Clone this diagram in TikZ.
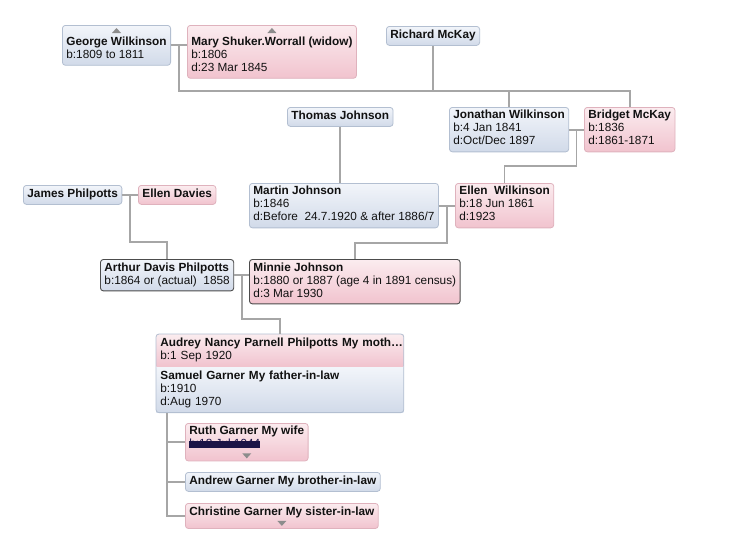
\documentclass[tikz,border=0pt]{standalone}
\usepackage{fontspec}
\setmainfont{Liberation Sans}
\usetikzlibrary{positioning, calc, fit}

\definecolor{bluetop}{HTML}{F2F5FA}
\definecolor{bluebot}{HTML}{D1DAE9}
\definecolor{blueline}{HTML}{B3BFD1}
\definecolor{pinktop}{HTML}{FBECEF}
\definecolor{pinkbot}{HTML}{F1C3CE}
\definecolor{pinkline}{HTML}{DFB2BD}
\definecolor{linkgray}{HTML}{A6A6A6}
\definecolor{markgray}{HTML}{8C8C8C}
\definecolor{inkblue}{HTML}{1B1446}
\definecolor{textblack}{HTML}{111111}

\newcommand{\blotted}[1]{\sbox0{#1}\usebox0\hspace{-\wd0}\rule[0pt]{\wd0}{6.5pt}}

\tikzset{
  person/.style={rectangle, rounded corners=3pt, anchor=north west, align=left,
    inner xsep=4pt, inner ysep=3pt, line width=0.8pt,
    font=\fontsize{11.8}{13}\selectfont, text=textblack,
    execute at begin node=\strut, execute at end node=\strut},
  male/.style={person, draw=blueline, top color=bluetop, bottom color=bluebot},
  female/.style={person, draw=pinkline, top color=pinktop, bottom color=pinkbot},
  picked/.style={draw=black!70, line width=0.9pt},
  link/.style={draw=linkgray, line width=1.8pt},
  marker/.style={fill=markgray},
}

\begin{document}
\begin{tikzpicture}[x=1pt, y=-1pt]
    \useasboundingbox (0,0) rectangle (736,550);

    % --- Persons ---
    \node[male] (george) at (62,25) {\rule{0pt}{17pt}\textbf{George Wilkinson}\\b:1809 to 1811};
    \node[female] (mary) at (187,25) {\rule{0pt}{17pt}\textbf{Mary Shuker.Worrall (widow)}\\b:1806\\d:23 Mar 1845};
    \node[male] (richard) at (386,26) {\textbf{Richard McKay}};
    \node[male] (thomas) at (287,107) {\textbf{Thomas Johnson}};
    \node[male] (jonathan) at (449,107) {\textbf{Jonathan Wilkinson}\\b:4 Jan 1841\\d:Oct/Dec 1897};
    \node[female] (bridget) at (584,107) {\textbf{Bridget McKay}\\b:1836\\d:1861-1871};
    \node[male] (james) at (23,185) {\textbf{James Philpotts}};
    \node[female] (ellend) at (138,185) {\textbf{Ellen Davies}};
    \node[male] (martin) at (249,183) {\textbf{Martin Johnson}\\b:1846\\d:Before\ \ 24.7.1920 \& after 1886/7};
    \node[female] (ellenw) at (455,183) {\textbf{Ellen\ \ Wilkinson}\\b:18 Jun 1861\\d:1923};
    \node[male, picked] (arthur) at (100,259) {\textbf{Arthur Davis Philpotts}\\b:1864 or (actual)\ \ 1858};
    \node[female, picked] (minnie) at (249,259) {\textbf{Minnie Johnson}\\b:1880 or 1887 (age 4 in 1891 census)\\d:3 Mar 1930};

    % Couple box
    \node[female, draw=none, rounded corners=0pt, text width=239pt] (audrey) at (156,334)
        {\mbox{\textbf{Audrey Nancy Parnell Philpotts My moth…}}\\b:1 Sep 1920};
    \node[male, draw=none, rounded corners=0pt, text width=239pt] (samuel) at (audrey.south west)
        {\textbf{Samuel Garner My father-in-law}\\b:1910\\d:Aug 1970};
    \node[fit=(audrey)(samuel), inner sep=0pt, draw=blueline, line width=0.8pt, rounded corners=3pt] (family) {};

    % Children
    \node[female] (ruth) at (185,423) {\textbf{Ruth Garner My wife}\\\textcolor{inkblue}{\blotted{b:18 Jul 1944}}\rule[-10pt]{0pt}{10pt}};
    \node[male] (andrew) at (185,472) {\textbf{Andrew Garner My brother-in-law}};
    \node[female] (christine) at (185,503) {\textbf{Christine Garner My sister-in-law}\rule[-10pt]{0pt}{10pt}};

    % Expand markers
    \fill[marker] ($(george.north)+(-4.5,8)$) -- ++(9,0) -- ++(-4.5,-5) -- cycle;
    \fill[marker] ($(mary.north)+(-4.5,8)$) -- ++(9,0) -- ++(-4.5,-5) -- cycle;
    \fill[marker] ($(ruth.south)+(-4.5,-8)$) -- ++(9,0) -- ++(-4.5,5) -- cycle;
    \fill[marker] ($(christine.south)+(-4.5,-8)$) -- ++(9,0) -- ++(-4.5,5) -- cycle;

    % --- Connectors ---
    \coordinate (bus) at (0,91);
    \draw[link] (george.east) -- (george.east -| mary.west);
    \coordinate (gmmid) at ($(george.east)!0.5!(george.east -| mary.west)$);
    \draw[link] (gmmid) -- (gmmid |- bus) -| (jonathan.north);
    \draw[link] (richard.south) -- (richard.south |- bus) -| (bridget.north);

    \draw[link] (jonathan.east) -- (jonathan.east -| bridget.west);
    \coordinate (jbmid) at ($(jonathan.east)!0.5!(jonathan.east -| bridget.west)$);
    \draw[link] (jbmid) |- ($(ellenw.north)+(0,-17)$) -- (ellenw.north);

    \draw[link] (thomas.south) -- (thomas.south |- martin.north);

    \draw[link] (martin.east) -- (martin.east -| ellenw.west);
    \coordinate (memid) at ($(martin.east)!0.5!(martin.east -| ellenw.west)$);
    \draw[link] (memid) |- ($(minnie.north)+(0,-16)$) -- (minnie.north);

    \draw[link] (james.east) -- (james.east -| ellend.west);
    \coordinate (jemid) at ($(james.east)!0.5!(james.east -| ellend.west)$);
    \draw[link] (jemid) |- ($(arthur.north)+(0,-17)$) -- (arthur.north);

    \draw[link] (arthur.east) -- (arthur.east -| minnie.west);
    \coordinate (ammid) at ($(arthur.east)!0.5!(arthur.east -| minnie.west)$);
    \draw[link] (ammid) |- ($(family.north)+(0,-15)$) -- (family.north);

    \coordinate (kids) at ($(family.south west)+(11,0)$);
    \draw[link] (kids) |- (ruth.west);
    \draw[link] (kids) |- (andrew.west);
    \draw[link] (kids) |- (christine.west);
\end{tikzpicture}
\end{document}
